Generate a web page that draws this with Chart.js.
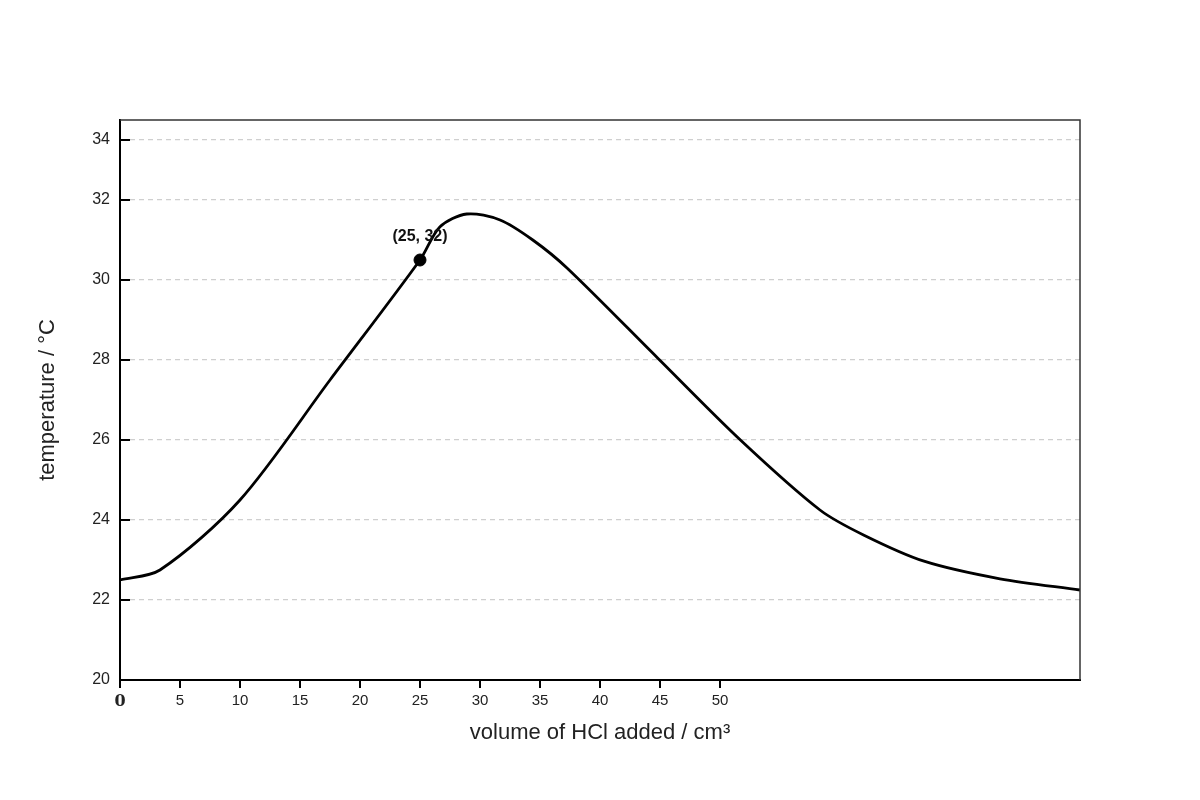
<!DOCTYPE html>
<html>
<head>
<meta charset="utf-8">
<style>
  html, body { margin: 0; padding: 0; background: #ffffff; }
  #wrap { width: 1200px; height: 800px; }
</style>
<script src="https://cdn.jsdelivr.net/npm/chart.js@4.4.1/dist/chart.umd.min.js"></script>
</head>
<body>
<div id="wrap"><canvas id="c" width="1200" height="800"></canvas></div>
<script>
// ---- data ----
const volumes      = [0, 3.33, 10, 17.5, 25, 26.67, 28.9, 31.67, 34.4, 37.25, 44.8, 51.7, 58.33, 62, 67, 73.33, 80];
const temperatures = [22.5, 22.75, 24.5, 27.5, 30.5, 31.33, 31.65, 31.5, 31.0, 30.3, 28.05, 26.0, 24.25, 23.62, 22.97, 22.53, 22.25];

const markedX = [25];
const markedY = [30.5];
const markedLabel = '(25, 32)';

const xTickValues = [0, 5, 10, 15, 20, 25, 30, 35, 40, 45, 50];
const yTickValues = [20, 22, 24, 26, 28, 30, 32, 33.5];
const yTickLabels = ['20', '22', '24', '26', '28', '30', '32', '34'];

const xTitle = 'volume of HCl added / cm³';
const yTitle = 'temperature / °C';

// ---- build ----
const curve = volumes.map((v, i) => ({ x: v, y: temperatures[i] }));
const marked = markedX.map((v, i) => ({ x: v, y: markedY[i] }));

const FONT = "'Liberation Sans', Arial, sans-serif";

const decorPlugin = {
  id: 'decor',
  afterDraw(chart) {
    const { ctx, chartArea } = chart;
    const xs = chart.scales.x, ys = chart.scales.y;
    ctx.save();
    // top and right frame
    ctx.strokeStyle = '#333';
    ctx.lineWidth = 1.5;
    ctx.beginPath();
    ctx.moveTo(chartArea.left, chartArea.top);
    ctx.lineTo(chartArea.right, chartArea.top);
    ctx.lineTo(chartArea.right, chartArea.bottom);
    ctx.stroke();
    // inside y tick marks
    ctx.strokeStyle = '#000';
    ctx.lineWidth = 2;
    yTickValues.forEach(v => {
      if (v === 20) return;
      const py = ys.getPixelForValue(v);
      ctx.beginPath();
      ctx.moveTo(chartArea.left, py);
      ctx.lineTo(chartArea.left + 10, py);
      ctx.stroke();
    });
    // marked point label
    ctx.fillStyle = '#111';
    ctx.font = 'bold 16px ' + FONT;
    ctx.textAlign = 'center';
    ctx.textBaseline = 'alphabetic';
    markedX.forEach((v, i) => {
      const px = xs.getPixelForValue(v);
      const py = ys.getPixelForValue(markedY[i]);
      ctx.fillText(markedLabel, px, py - 19);
    });
    // axis titles
    ctx.fillStyle = '#222';
    ctx.font = '22px ' + FONT;
    ctx.textAlign = 'center';
    ctx.textBaseline = 'middle';
    ctx.fillText(xTitle, (chartArea.left + chartArea.right) / 2, 733);
    ctx.translate(48, (chartArea.top + chartArea.bottom) / 2);
    ctx.rotate(-Math.PI / 2);
    ctx.fillText(yTitle, 0, 0);
    ctx.restore();
  }
};

new Chart(document.getElementById('c'), {
  type: 'line',
  data: {
    datasets: [
      {
        data: curve,
        borderColor: '#000',
        borderWidth: 2.8,
        pointRadius: 0,
        fill: false,
        tension: 0.3
      },
      {
        type: 'scatter',
        data: marked,
        backgroundColor: '#000',
        borderColor: '#000',
        pointRadius: 6,
        pointHoverRadius: 6
      }
    ]
  },
  options: {
    responsive: false,
    animation: false,
    devicePixelRatio: 1,
    layout: { padding: { top: 120, right: 120, left: 0, bottom: 0 } },
    plugins: { legend: { display: false }, tooltip: { enabled: false } },
    scales: {
      x: {
        type: 'linear',
        min: 0,
        max: 80,
        afterFit(scale) { scale.height = 120; },
        afterBuildTicks(scale) { scale.ticks = xTickValues.map(v => ({ value: v })); },
        border: { display: true, color: '#000', width: 2 },
        grid: { display: true, drawOnChartArea: false, drawTicks: true, tickLength: 8, color: '#000', lineWidth: 2 },
        ticks: {
          padding: 4,
          color: '#222',
          maxRotation: 0,
          autoSkip: false,
          font: (c) => (c.tick && c.tick.value === 0)
            ? { family: "'DejaVu Serif', 'Liberation Serif', serif", size: 16, weight: 'bold' }
            : { family: FONT, size: 15 },
          callback: (v) => String(v)
        },
        title: { display: false }
      },
      y: {
        type: 'linear',
        min: 20,
        max: 34,
        afterFit(scale) { scale.width = 120; },
        afterBuildTicks(scale) { scale.ticks = yTickValues.map(v => ({ value: v })); },
        border: { display: true, color: '#000', width: 2, dash: [5, 4] },
        grid: { display: true, drawTicks: false, color: '#cfcfcf', lineWidth: 1.3 },
        ticks: {
          padding: 10,
          color: '#222',
          font: { family: FONT, size: 16 },
          autoSkip: false,
          callback: (v) => {
            const i = yTickValues.indexOf(v);
            return i >= 0 ? yTickLabels[i] : '';
          }
        },
        title: { display: false }
      }
    }
  },
  plugins: [decorPlugin]
});
</script>
</body>
</html>
